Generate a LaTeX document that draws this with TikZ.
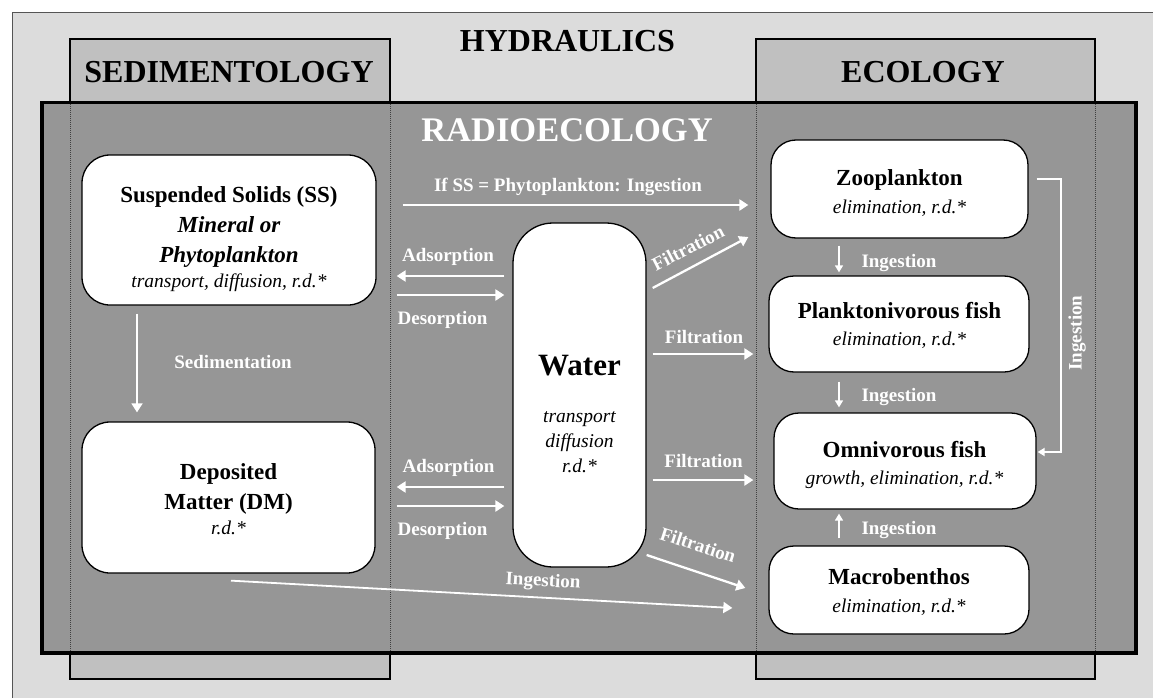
\documentclass[tikz,border=0pt]{standalone}
\usepackage{fontspec}
\setmainfont{Liberation Serif}
\usetikzlibrary{arrows.meta}

\definecolor{paper}{HTML}{DCDCDC}
\definecolor{discipline}{HTML}{C0C0C0}
\definecolor{radio}{HTML}{969696}
\definecolor{frameline}{HTML}{555555}

\begin{document}
\begin{tikzpicture}[x=1pt,y=-1pt,
  compartment/.style={draw=black, line width=1.3pt, fill=white, inner sep=0pt, rounded corners=28pt},
  flow/.style={draw=white, line width=2.3pt, -{Triangle[length=9pt,width=11pt]}},
  thinflow/.style={draw=white, line width=1.5pt, -{Triangle[length=7pt,width=8pt]}},
  flowtext/.style={text=white, font=\fontsize{19}{22}\selectfont\bfseries, inner sep=0pt},
  ttl/.style={font=\fontsize{23}{26}\selectfont\bfseries, inner sep=0pt, anchor=base},
  ttlit/.style={font=\fontsize{23}{26}\selectfont\bfseries\itshape, inner sep=0pt, anchor=base},
  sub/.style={font=\fontsize{19.5}{22}\selectfont\itshape, inner sep=0pt, anchor=base},
  heading/.style={font=\fontsize{32}{36}\selectfont\bfseries, inner sep=0pt, anchor=base},
  seam/.style={draw=black!75, line width=0.6pt, dash pattern=on 1pt off 1pt}
]
\useasboundingbox (0,0) rectangle (1153,698);
\clip (0,0) rectangle (1153,698);

% page and outer hydraulics frame
\fill[white] (0,0) rectangle (1153,698);
\draw[frameline, fill=paper, line width=1pt] (12,13) rectangle (1170,720);

% discipline panels behind the radioecology panel
\draw[fill=discipline, line width=1.5pt] (70,39) rectangle (390,679);
\draw[fill=discipline, line width=1.5pt] (756,39) rectangle (1095,679);

% radioecology panel
\draw[fill=radio, line width=3.5pt] (42,102.5) rectangle (1136,653);
\draw[seam] (70,104) -- (70,651);
\draw[seam] (390,104) -- (390,651);
\draw[seam] (756,104) -- (756,651);
\draw[seam] (1095,104) -- (1095,651);

% headings
\node[heading] (hyd) at (567.5,52) {HYDRAULICS};
\node[heading] (sed) at (229,83) {SEDIMENTOLOGY};
\node[heading] (eco) at (923,83) {ECOLOGY};
\node[heading, text=white, font=\fontsize{34.5}{38}\selectfont\bfseries] (rad) at (567,142) {RADIOECOLOGY};

% compartments
\node[compartment, minimum width=294pt, minimum height=150pt] (SS) at (229,230) {};
\node[compartment, minimum width=293pt, minimum height=151pt] (DM) at (228.5,497.5) {};
\node[compartment, minimum width=133pt, minimum height=344pt, rounded corners=40pt] (W) at (579.5,395) {};
\node[compartment, minimum width=257pt, minimum height=98pt, rounded corners=25pt] (Zoo) at (899.5,189) {};
\node[compartment, minimum width=260pt, minimum height=96pt, rounded corners=25pt] (Plk) at (899,324) {};
\node[compartment, minimum width=262pt, minimum height=96pt, rounded corners=25pt] (Omn) at (905,461) {};
\node[compartment, minimum width=260pt, minimum height=88pt, rounded corners=25pt] (Mac) at (899,590) {};

% compartment texts
\node[ttl] (ssA) at (229,202) {Suspended Solids (SS)};
\node[ttlit] (ssB) at (229,232) {Mineral or};
\node[ttlit] (ssC) at (229,262) {Phytoplankton};
\node[sub] (ssD) at (229,287) {transport, diffusion, r.d.*};

\node[ttl] (dmA) at (228.5,479) {Deposited};
\node[ttl] (dmB) at (228.5,509) {Matter (DM)};
\node[sub] (dmC) at (228.5,534) {r.d.*};

\node[ttl, font=\fontsize{31}{34}\selectfont\bfseries] (wA) at (579.5,375) {Water};
\node[sub] (wB) at (579.5,422) {transport};
\node[sub] (wC) at (579.5,447) {diffusion};
\node[sub] (wD) at (579.5,472) {r.d.*};

\node[ttl] (zA) at (899.5,185) {Zooplankton};
\node[sub] (zB) at (899.5,213) {elimination, r.d.*};
\node[ttl] (pA) at (899.5,318) {Planktonivorous fish};
\node[sub] (pB) at (899.5,345) {elimination, r.d.*};
\node[ttl] (oA) at (904.5,457) {Omnivorous fish};
\node[sub] (oB) at (904.5,484) {growth, elimination, r.d.*};
\node[ttl] (mA) at (899,584) {Macrobenthos};
\node[sub] (mB) at (899,612) {elimination, r.d.*};

% fluxes between compartments
\draw[flow] ([xshift=26pt,yshift=25pt]SS.east) -- ([xshift=-22pt,yshift=-16pt]Zoo.west);
\draw[flow] ([xshift=-8pt,yshift=119pt]W.west) -- ([xshift=20pt,yshift=-46pt]SS.east);
\draw[flow] ([xshift=20pt,yshift=-65pt]SS.east) -- ([xshift=-8pt,yshift=100pt]W.west);
\draw[flow] ([xshift=-8pt,yshift=-92pt]W.west) -- ([xshift=21pt,yshift=10.5pt]DM.east);
\draw[flow] ([xshift=21pt,yshift=-8.5pt]DM.east) -- ([xshift=-8pt,yshift=-111pt]W.west);
\draw[flow] ([xshift=6pt,yshift=107pt]W.east) -- ([xshift=-22pt,yshift=-48pt]Zoo.west);
\draw[flow] ([xshift=6pt,yshift=41pt]W.east) -- ([xshift=-15pt,yshift=-30pt]Plk.west);
\draw[flow] ([xshift=6pt,yshift=-85pt]W.east) -- ([xshift=-20pt,yshift=-19pt]Omn.west);
\draw[flow] ([yshift=-160pt]W.east) -- ([xshift=-23pt,yshift=2pt]Mac.west);
\draw[flow, line width=1.8pt] ([xshift=2.5pt,yshift=-7pt]DM.south) -- ([xshift=-36pt,yshift=-18pt]Mac.west);
\draw[flow, line width=1.8pt] ([xshift=-92pt,yshift=-8pt]SS.south) -- ([xshift=-91.5pt,yshift=9pt]DM.north);

% trophic transfers
\draw[thinflow] ([xshift=-60.5pt,yshift=-7pt]Zoo.south) -- ([xshift=-60pt,yshift=3pt]Plk.north);
\draw[thinflow] ([xshift=-60pt,yshift=-9pt]Plk.south) -- ([xshift=-66pt,yshift=5pt]Omn.north);
\draw[thinflow] ([xshift=-60pt,yshift=7pt]Mac.north) -- ([xshift=-66pt,yshift=-4pt]Omn.south);
\draw[thinflow, line width=2pt] ([xshift=8pt,yshift=10pt]Zoo.east) -- ++(24,0) |- ([xshift=1pt,yshift=9pt]Omn.east);

% flux labels
\node[flowtext, anchor=base] (l1) at (568,191) {If SS = Phytoplankton: Ingestion};
\node[flowtext, anchor=base] (l2) at (448,261) {Adsorption};
\node[flowtext, anchor=base] (l3) at (442.5,324) {Desorption};
\node[flowtext, anchor=base] (l4) at (448.5,472) {Adsorption};
\node[flowtext, anchor=base] (l5) at (442.5,535) {Desorption};
\node[flowtext, anchor=base] (l6) at (704,343) {Filtration};
\node[flowtext, anchor=base] (l7) at (703.5,467) {Filtration};
\node[flowtext, rotate=27] (l8) at (688,248) {Filtration};
\node[flowtext, rotate=-18] (l9) at (698,545) {Filtration};
\node[flowtext, rotate=-3] (l10) at (543,582) {Ingestion};
\node[flowtext, anchor=base] (l11) at (233,368) {Sedimentation};
\node[flowtext, anchor=base] (l12) at (899,267) {Ingestion};
\node[flowtext, anchor=base] (l13) at (899,401) {Ingestion};
\node[flowtext, anchor=base] (l14) at (899,534) {Ingestion};
\node[flowtext, rotate=90] (l15) at (1077,333) {Ingestion};
\end{tikzpicture}
\end{document}
